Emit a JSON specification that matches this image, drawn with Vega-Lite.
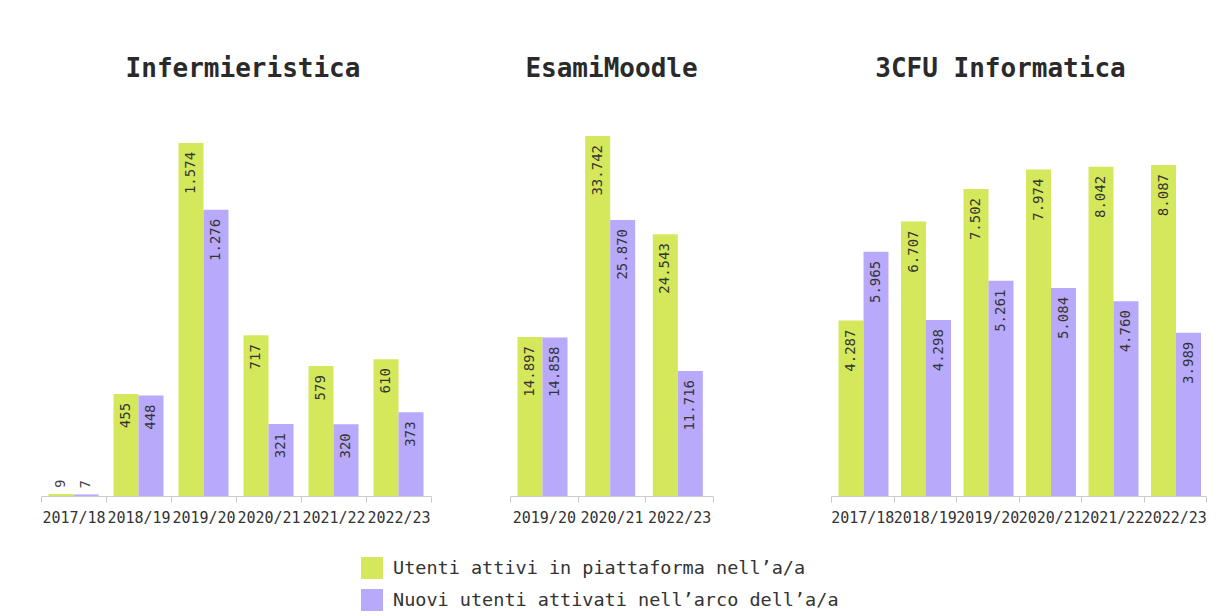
{
  "$schema": "https://vega.github.io/schema/vega-lite/v6.json",
  "background": "white",
  "padding": {"left": 40, "top": 56, "right": 5, "bottom": 0},
  "config": {
    "locale": {"number": {"decimal": ",", "thousands": ".", "grouping": [3], "currency": ["€", ""]}},
    "view": {"stroke": null},
    "font": "DejaVu Sans Mono",
    "title": {"font": "DejaVu Sans Mono", "fontSize": 26, "fontWeight": "bold", "color": "#2a2a2a", "baseline": "alphabetic", "offset": 34, "anchor": "middle"},
    "axisX": {"domainColor": "#cccccc", "tickColor": "#c8c8c8", "tickSize": 6, "tickBand": "extent", "labelFont": "DejaVu Sans Mono", "labelFontSize": 15, "labelColor": "#333333", "labelAngle": 0, "labelPadding": 8, "labelOverlap": false, "labelBound": false, "grid": false, "title": null},
    "legend": {"labelFont": "DejaVu Sans Mono", "labelLimit": 0}
  },
  "data": {"values": [
    {"p": "Infermieristica", "a": "2017/18", "s": "Utenti attivi in piattaforma nell’a/a", "v": 9},
    {"p": "Infermieristica", "a": "2017/18", "s": "Nuovi utenti attivati nell’arco dell’a/a", "v": 7},
    {"p": "Infermieristica", "a": "2018/19", "s": "Utenti attivi in piattaforma nell’a/a", "v": 455},
    {"p": "Infermieristica", "a": "2018/19", "s": "Nuovi utenti attivati nell’arco dell’a/a", "v": 448},
    {"p": "Infermieristica", "a": "2019/20", "s": "Utenti attivi in piattaforma nell’a/a", "v": 1574},
    {"p": "Infermieristica", "a": "2019/20", "s": "Nuovi utenti attivati nell’arco dell’a/a", "v": 1276},
    {"p": "Infermieristica", "a": "2020/21", "s": "Utenti attivi in piattaforma nell’a/a", "v": 717},
    {"p": "Infermieristica", "a": "2020/21", "s": "Nuovi utenti attivati nell’arco dell’a/a", "v": 321},
    {"p": "Infermieristica", "a": "2021/22", "s": "Utenti attivi in piattaforma nell’a/a", "v": 579},
    {"p": "Infermieristica", "a": "2021/22", "s": "Nuovi utenti attivati nell’arco dell’a/a", "v": 320},
    {"p": "Infermieristica", "a": "2022/23", "s": "Utenti attivi in piattaforma nell’a/a", "v": 610},
    {"p": "Infermieristica", "a": "2022/23", "s": "Nuovi utenti attivati nell’arco dell’a/a", "v": 373},
    {"p": "EsamiMoodle", "a": "2019/20", "s": "Utenti attivi in piattaforma nell’a/a", "v": 14897},
    {"p": "EsamiMoodle", "a": "2019/20", "s": "Nuovi utenti attivati nell’arco dell’a/a", "v": 14858},
    {"p": "EsamiMoodle", "a": "2020/21", "s": "Utenti attivi in piattaforma nell’a/a", "v": 33742},
    {"p": "EsamiMoodle", "a": "2020/21", "s": "Nuovi utenti attivati nell’arco dell’a/a", "v": 25870},
    {"p": "EsamiMoodle", "a": "2022/23", "s": "Utenti attivi in piattaforma nell’a/a", "v": 24543},
    {"p": "EsamiMoodle", "a": "2022/23", "s": "Nuovi utenti attivati nell’arco dell’a/a", "v": 11716},
    {"p": "3CFU Informatica", "a": "2017/18", "s": "Utenti attivi in piattaforma nell’a/a", "v": 4287},
    {"p": "3CFU Informatica", "a": "2017/18", "s": "Nuovi utenti attivati nell’arco dell’a/a", "v": 5965},
    {"p": "3CFU Informatica", "a": "2018/19", "s": "Utenti attivi in piattaforma nell’a/a", "v": 6707},
    {"p": "3CFU Informatica", "a": "2018/19", "s": "Nuovi utenti attivati nell’arco dell’a/a", "v": 4298},
    {"p": "3CFU Informatica", "a": "2019/20", "s": "Utenti attivi in piattaforma nell’a/a", "v": 7502},
    {"p": "3CFU Informatica", "a": "2019/20", "s": "Nuovi utenti attivati nell’arco dell’a/a", "v": 5261},
    {"p": "3CFU Informatica", "a": "2020/21", "s": "Utenti attivi in piattaforma nell’a/a", "v": 7974},
    {"p": "3CFU Informatica", "a": "2020/21", "s": "Nuovi utenti attivati nell’arco dell’a/a", "v": 5084},
    {"p": "3CFU Informatica", "a": "2021/22", "s": "Utenti attivi in piattaforma nell’a/a", "v": 8042},
    {"p": "3CFU Informatica", "a": "2021/22", "s": "Nuovi utenti attivati nell’arco dell’a/a", "v": 4760},
    {"p": "3CFU Informatica", "a": "2022/23", "s": "Utenti attivi in piattaforma nell’a/a", "v": 8087},
    {"p": "3CFU Informatica", "a": "2022/23", "s": "Nuovi utenti attivati nell’arco dell’a/a", "v": 3989}
  ]},
  "resolve": {"scale": {"color": "shared"}, "legend": {"color": "shared"}},
  "spacing": 77,
  "hconcat": [
    {
      "width": 390, "height": 380,
      "title": {"text": "Infermieristica", "dx": 7},
      "transform": [{"filter": "datum.p === 'Infermieristica'"}],
      "encoding": {
        "x": {"field": "a", "type": "nominal", "sort": null, "scale": {"paddingInner": 0, "paddingOuter": 0}, "title": null},
        "xOffset": {"field": "s", "type": "nominal", "scale": {"domain": ["Utenti attivi in piattaforma nell’a/a", "Nuovi utenti attivati nell’arco dell’a/a"], "paddingInner": 0, "paddingOuter": 0.3}},
        "y": {"field": "v", "type": "quantitative", "scale": {"domain": [0, 1694]}, "axis": null}
      },
      "layer": [
        {"mark": {"type": "bar"}, "encoding": {"color": {"field": "s", "type": "nominal", "scale": {"domain": ["Utenti attivi in piattaforma nell’a/a", "Nuovi utenti attivati nell’arco dell’a/a"], "range": ["#d5e85c", "#b9a9fb"]}, "legend": {"title": null, "orient": "none", "legendX": 320, "legendY": 441, "direction": "vertical", "symbolType": "square", "symbolSize": 484, "symbolStrokeWidth": 0, "symbolOpacity": 1, "labelFontSize": 18.5, "labelColor": "#333333", "labelOffset": 10, "labelLimit": 0, "rowPadding": 10, "padding": 0}}}},
        {"transform": [{"filter": "datum.v >= 50"}], "mark": {"type": "text", "angle": 270, "align": "right", "baseline": "middle", "dx": -9, "fontSize": 14, "color": "#333333"}, "encoding": {"text": {"field": "v", "type": "quantitative", "format": ",d"}}},
        {"transform": [{"filter": "datum.v < 50"}], "mark": {"type": "text", "angle": 270, "align": "left", "baseline": "middle", "dx": 6, "fontSize": 14, "color": "#444444"}, "encoding": {"text": {"field": "v", "type": "quantitative", "format": ",d"}}}
      ]
    },
    {
      "spacing": 116,
      "hconcat": [
        {
          "width": 203, "height": 380,
          "title": {"text": "EsamiMoodle"},
          "transform": [{"filter": "datum.p === 'EsamiMoodle'"}],
          "encoding": {
            "x": {"field": "a", "type": "nominal", "sort": null, "scale": {"paddingInner": 0, "paddingOuter": 0}, "title": null},
            "xOffset": {"field": "s", "type": "nominal", "scale": {"domain": ["Utenti attivi in piattaforma nell’a/a", "Nuovi utenti attivati nell’arco dell’a/a"], "paddingInner": 0, "paddingOuter": 0.3}},
            "y": {"field": "v", "type": "quantitative", "scale": {"domain": [0, 35617]}, "axis": null}
          },
          "layer": [
            {"mark": {"type": "bar"}, "encoding": {"color": {"field": "s", "type": "nominal", "scale": {"domain": ["Utenti attivi in piattaforma nell’a/a", "Nuovi utenti attivati nell’arco dell’a/a"], "range": ["#d5e85c", "#b9a9fb"]}, "legend": {"title": null, "orient": "none", "legendX": 320, "legendY": 441, "direction": "vertical", "symbolType": "square", "symbolSize": 484, "symbolStrokeWidth": 0, "symbolOpacity": 1, "labelFontSize": 18.5, "labelColor": "#333333", "labelOffset": 10, "labelLimit": 0, "rowPadding": 10, "padding": 0}}}},
            {"mark": {"type": "text", "angle": 270, "align": "right", "baseline": "middle", "dx": -9, "fontSize": 14, "color": "#333333"}, "encoding": {"text": {"field": "v", "type": "quantitative", "format": ",d"}}}
          ]
        },
        {
          "width": 375, "height": 380,
          "title": {"text": "3CFU Informatica", "dx": -18},
          "transform": [{"filter": "datum.p === '3CFU Informatica'"}],
          "encoding": {
            "x": {"field": "a", "type": "nominal", "sort": null, "scale": {"paddingInner": 0, "paddingOuter": 0}, "title": null},
            "xOffset": {"field": "s", "type": "nominal", "scale": {"domain": ["Utenti attivi in piattaforma nell’a/a", "Nuovi utenti attivati nell’arco dell’a/a"], "paddingInner": 0, "paddingOuter": 0.3}},
            "y": {"field": "v", "type": "quantitative", "scale": {"domain": [0, 9284]}, "axis": null}
          },
          "layer": [
            {"mark": {"type": "bar"}, "encoding": {"color": {"field": "s", "type": "nominal", "scale": {"domain": ["Utenti attivi in piattaforma nell’a/a", "Nuovi utenti attivati nell’arco dell’a/a"], "range": ["#d5e85c", "#b9a9fb"]}, "legend": {"title": null, "orient": "none", "legendX": 320, "legendY": 441, "direction": "vertical", "symbolType": "square", "symbolSize": 484, "symbolStrokeWidth": 0, "symbolOpacity": 1, "labelFontSize": 18.5, "labelColor": "#333333", "labelOffset": 10, "labelLimit": 0, "rowPadding": 10, "padding": 0}}}},
            {"mark": {"type": "text", "angle": 270, "align": "right", "baseline": "middle", "dx": -9, "fontSize": 14, "color": "#333333"}, "encoding": {"text": {"field": "v", "type": "quantitative", "format": ",d"}}}
          ]
        }
      ]
    }
  ]
}
